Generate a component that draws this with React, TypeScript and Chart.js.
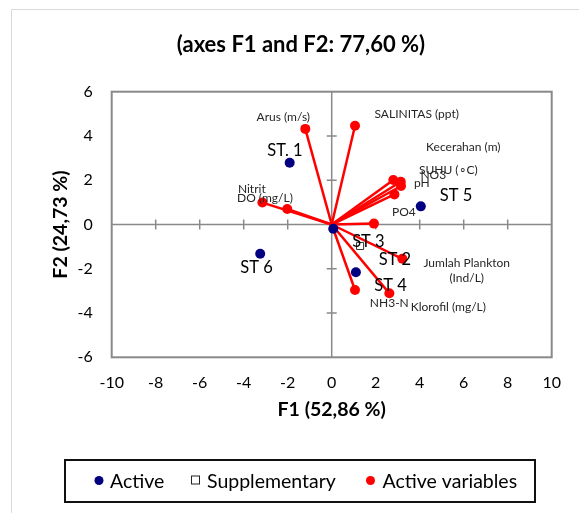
import React, { useEffect, useRef } from "react";
import { Chart, registerables } from "chart.js";

Chart.register(...registerables);

// ---- data ----
const titleText = "(axes F1 and F2: 77,60 %)";
const xTitle = "F1 (52,86 %)";
const yTitle = "F2 (24,73 %)";

const activeNames = ["ST. 1", "ST 2", "ST 4", "ST 5", "ST 6"];
const activeF1 = [-1.91, 0.07, 1.1, 4.05, -3.25];
const activeF2 = [2.79, -0.19, -2.16, 0.82, -1.32];

const suppNames = ["ST 3"];
const suppF1 = [1.29];
const suppF2 = [-0.97];

const varNames = [
  "Arus (m/s)",
  "SALINITAS (ppt)",
  "Kecerahan (m)",
  "SUHU (\u2218C)",
  "NO3",
  "pH",
  "PO4",
  "Nitrit",
  "DO (mg/L)",
  "Jumlah Plankton\n(Ind/L)",
  "NH3-N",
  "Klorofil (mg/L)",
];
const varF1 = [-1.2, 1.06, 2.8, 3.14, 3.15, 2.85, 1.92, -3.15, -2.02, 3.21, 1.06, 2.62];
const varF2 = [4.32, 4.46, 2.01, 1.93, 1.74, 1.36, 0.04, 0.99, 0.7, -1.55, -2.96, -3.11];

const legendLabels = ["Active", "Supplementary", "Active variables"];

// ---- label placement (pixel offsets from each point) ----
const activeLabelOffsets = [
  [-4.7, -11.7],
  [61.7, 31.3],
  [34.7, 13.7],
  [35.3, -10.3],
  [-3.6, 14],
];
const suppLabelOffsets = [[8.3, -4.3]];
const varLabelOffsets = [
  [-22, -11.7],
  [61.7, -11.7],
  [70, -32.7],
  [47.6, -11.7],
  [32.3, -10.7],
  [27.4, -11],
  [30, -11],
  [-10.6, -13.4],
  [-22.3, -10.7],
  [64.4, 11.8],
  [34.3, 12.7],
  [59, 13.4],
];

const NAVY = "#000080";
const RED = "#ff0000";
const FONT = "Lato, 'Open Sans', sans-serif";

const decorPlugin = {
  id: "decor",
  beforeDraw(chart: any) {
    const ctx = chart.ctx;
    ctx.save();
    ctx.fillStyle = "#ffffff";
    ctx.fillRect(0, 0, chart.width, chart.height);
    ctx.strokeStyle = "#d9d9d9";
    ctx.lineWidth = 1;
    ctx.beginPath();
    ctx.moveTo(11.5, chart.height);
    ctx.lineTo(11.5, 9.5);
    ctx.lineTo(chart.width, 9.5);
    ctx.stroke();
    ctx.fillStyle = "#000";
    ctx.font = `bold 22px ${FONT}`;
    ctx.textAlign = "center";
    ctx.textBaseline = "middle";
    ctx.fillText(titleText, 301, 45);
    ctx.restore();
  },
  beforeDatasetsDraw(chart: any) {
    const ctx = chart.ctx;
    const { left, right, top, bottom } = chart.chartArea;
    const xs = chart.scales.x;
    const ys = chart.scales.y;
    const x0 = xs.getPixelForValue(0);
    const y0 = ys.getPixelForValue(0);
    ctx.save();
    ctx.strokeStyle = "#898989";
    ctx.lineWidth = 1.5;
    ctx.beginPath();
    ctx.moveTo(left, y0);
    ctx.lineTo(right, y0);
    ctx.moveTo(x0, top);
    ctx.lineTo(x0, bottom);
    xs.ticks.forEach((t: any) => {
      if (t.value === 0 || t.value === xs.min || t.value === xs.max) return;
      const px = xs.getPixelForValue(t.value);
      ctx.moveTo(px, y0 - 5);
      ctx.lineTo(px, y0 + 5);
    });
    ys.ticks.forEach((t: any) => {
      if (t.value === 0 || t.value === ys.min || t.value === ys.max) return;
      const py = ys.getPixelForValue(t.value);
      ctx.moveTo(x0 - 5, py);
      ctx.lineTo(x0 + 5, py);
    });
    ctx.stroke();
    ctx.lineWidth = 2;
    ctx.strokeRect(left, top, right - left, bottom - top);
    ctx.restore();
  },
  afterDatasetsDraw(chart: any) {
    const ctx = chart.ctx;
    const xs = chart.scales.x;
    const ys = chart.scales.y;
    ctx.save();
    ctx.textAlign = "center";
    ctx.textBaseline = "middle";
    // variable labels
    ctx.font = `12px ${FONT}`;
    ctx.fillStyle = "#262626";
    varNames.forEach((n, i) => {
      const px = xs.getPixelForValue(varF1[i]) + varLabelOffsets[i][0];
      const py = ys.getPixelForValue(varF2[i]) + varLabelOffsets[i][1];
      const lines = n.split("\n");
      lines.forEach((l, k) => {
        ctx.fillText(l, px, py + (k - (lines.length - 1) / 2) * 15.6);
      });
    });
    // observation labels
    ctx.font = `16.5px ${FONT}`;
    ctx.fillStyle = "#000";
    activeNames.forEach((n, i) => {
      const px = xs.getPixelForValue(activeF1[i]) + activeLabelOffsets[i][0];
      const py = ys.getPixelForValue(activeF2[i]) + activeLabelOffsets[i][1];
      ctx.fillText(n, px, py);
    });
    suppNames.forEach((n, i) => {
      const px = xs.getPixelForValue(suppF1[i]) + suppLabelOffsets[i][0];
      const py = ys.getPixelForValue(suppF2[i]) + suppLabelOffsets[i][1];
      ctx.fillText(n, px, py);
    });
    // legend box
    ctx.lineWidth = 2;
    ctx.strokeStyle = "#111";
    ctx.strokeRect(65, 460, 470, 42);
    const ly = 481.5;
    ctx.font = `19.5px ${FONT}`;
    ctx.textAlign = "left";
    ctx.fillStyle = NAVY;
    ctx.beginPath();
    ctx.arc(99, ly - 1, 4.5, 0, Math.PI * 2);
    ctx.fill();
    ctx.fillStyle = "#000";
    ctx.fillText(legendLabels[0], 110, ly);
    ctx.lineWidth = 1;
    ctx.strokeStyle = "#222";
    ctx.fillStyle = "#fff";
    ctx.fillRect(191, ly - 5, 8, 8);
    ctx.strokeRect(191.5, ly - 5.5, 8, 8);
    ctx.fillStyle = "#000";
    ctx.fillText(legendLabels[1], 207, ly);
    ctx.fillStyle = RED;
    ctx.beginPath();
    ctx.arc(370.5, ly - 1, 4.5, 0, Math.PI * 2);
    ctx.fill();
    ctx.fillStyle = "#000";
    ctx.fillText(legendLabels[2], 382.5, ly);
    ctx.restore();
  },
};

export default function App() {
  const ref = useRef<HTMLCanvasElement | null>(null);
  useEffect(() => {
    if (!ref.current) return;
    const varSets = varNames.map((n, i) => ({
      label: n,
      data: [
        { x: 0, y: 0 },
        { x: varF1[i], y: varF2[i] },
      ],
      showLine: true,
      borderColor: RED,
      borderWidth: 2.5,
      pointRadius: [0, 5],
      pointBackgroundColor: RED,
      pointBorderWidth: 0,
      pointBorderColor: RED,
      order: 2,
    }));
    const chart = new Chart(ref.current, {
      type: "scatter",
      data: {
        datasets: [
          {
            label: legendLabels[0],
            data: activeF1.map((x, i) => ({ x, y: activeF2[i] })),
            pointRadius: 5,
            pointBackgroundColor: NAVY,
            pointBorderWidth: 0,
            pointBorderColor: NAVY,
            order: 0,
          },
          {
            label: legendLabels[1],
            data: suppF1.map((x, i) => ({ x, y: suppF2[i] })),
            pointStyle: "rect",
            pointRadius: 5,
            pointBackgroundColor: "#fff",
            pointBorderColor: "#333",
            pointBorderWidth: 1,
            order: 1,
          },
          ...varSets,
        ] as any,
      },
      options: {
        animation: false,
        responsive: false,
        devicePixelRatio: 1,
        layout: { padding: { left: 0, top: 91.7, right: 27.3, bottom: 85.7 } },
        plugins: {
          legend: { display: false },
          tooltip: { enabled: false },
          title: { display: false },
        },
        scales: {
          x: {
            type: "linear",
            min: -10,
            max: 10,
            ticks: { stepSize: 2, padding: 16, color: "#000", font: { family: FONT, size: 16 } },
            grid: { display: false, drawTicks: false },
            border: { display: false },
            title: {
              display: true,
              text: xTitle,
              color: "#000",
              font: { family: FONT, size: 19.5, weight: "bold" },
              padding: { top: 0, bottom: 5.6 },
            },
            afterFit: (s: any) => {
              s.height = 70;
            },
          },
          y: {
            type: "linear",
            min: -6,
            max: 6,
            ticks: { stepSize: 2, padding: 19, color: "#000", font: { family: FONT, size: 16 } },
            grid: { display: false, drawTicks: false },
            border: { display: false },
            title: {
              display: true,
              text: yTitle,
              color: "#000",
              font: { family: FONT, size: 19.5, weight: "bold" },
              padding: { top: 49, bottom: 0 },
            },
            afterFit: (s: any) => {
              s.width = 111.7;
            },
          },
        },
      } as any,
      plugins: [decorPlugin],
    });
    return () => chart.destroy();
  }, []);
  return (
    <div style={{ position: "fixed", left: 0, top: 0, width: 579, height: 513, overflow: "hidden", background: "#fff" }}>
      <canvas ref={ref} width={579} height={513} style={{ display: "block" }} />
    </div>
  );
}
